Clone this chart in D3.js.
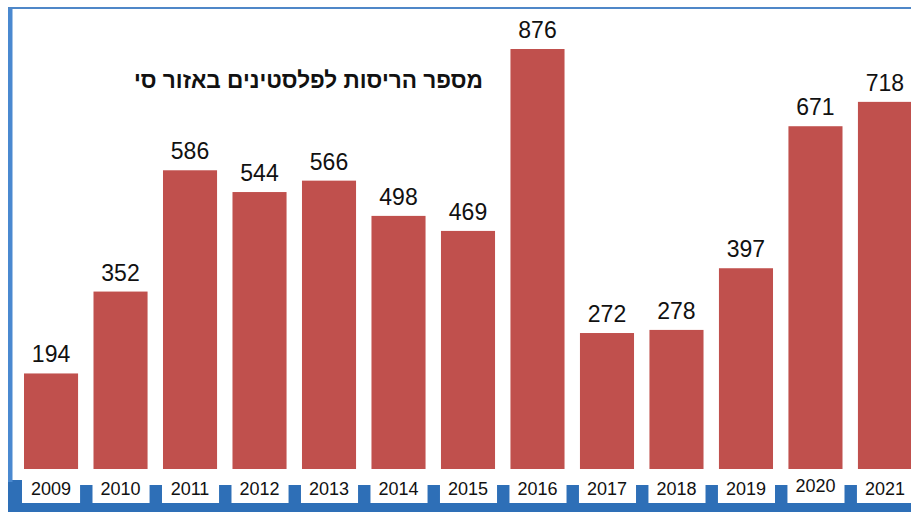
<!DOCTYPE html>
<html>
<head>
<meta charset="utf-8">
<script src="https://cdn.jsdelivr.net/npm/d3@7"></script>
<style>
  body { margin: 0; background: #fff; }
  svg { display: block; }
</style>
</head>
<body>
<div id="chart"></div>
<script>
let width = 911;
let height = 512;

let years = ["2009", "2010", "2011", "2012", "2013", "2014", "2015", "2016", "2017", "2018", "2019", "2020", "2021"];
let demolitions = [194, 352, 586, 544, 566, 498, 469, 876, 272, 278, 397, 671, 718];
let chartTitle = "מספר הריסות לפלסטינים באזור סי";

let svg = d3.select("#chart")
    .append("svg")
    .attr("width", width)
    .attr("height", height)
    .attr("viewBox", `0 0 ${width} ${height}`);

let x = d3.scaleBand()
    .domain(years)
    .range([24, 912])
    .paddingInner(0.222)
    .paddingOuter(0);

// the plot area is clipped at the top, so the 2016 bar gets cut off
let y = d3.scaleLinear()
    .domain([0, 820])
    .range([474, 49])
    .clamp(true);

let data = years.map((yr, i) => ({year: yr, value: demolitions[i]}));

svg.append("g")
    .selectAll("rect")
    .data(data)
    .enter()
    .append("rect")
        .attr("x", d => x(d.year))
        .attr("y", d => y(d.value))
        .attr("width", x.bandwidth())
        .attr("height", d => y(0) - y(d.value))
        .style("fill", "#C0504D");

svg.append("g")
    .selectAll("text")
    .data(data)
    .enter()
    .append("text")
        .attr("x", d => x(d.year) + x.bandwidth() / 2)
        .attr("y", d => y(d.value) - 11)
        .attr("text-anchor", "middle")
        .style("font-family", "'Liberation Sans', Arial, sans-serif")
        .style("font-size", "23px")
        .style("fill", "#111")
        .text(d => d.value);

// white strip under the bars that holds the year boxes
svg.append("rect")
    .attr("x", 12)
    .attr("y", 469)
    .attr("width", width - 12)
    .attr("height", 34)
    .style("fill", "#fff");

let gap = x.step() - x.bandwidth();
svg.append("g")
    .selectAll("rect")
    .data(years.slice(1))
    .enter()
    .append("rect")
        .attr("x", d => x(d) - gap + 2)
        .attr("y", 485)
        .attr("width", gap - 3)
        .attr("height", 20)
        .style("fill", "#2E6FB7");

svg.append("rect")
    .attr("x", 8)
    .attr("y", 480)
    .attr("width", 14)
    .attr("height", 25)
    .style("fill", "#2E6FB7");

svg.append("rect")
    .attr("x", 8)
    .attr("y", 503)
    .attr("width", width - 8)
    .attr("height", 9)
    .style("fill", "#2E6FB7");

svg.append("g")
    .selectAll("text")
    .data(years)
    .enter()
    .append("text")
        .attr("x", d => x(d) + x.bandwidth() / 2)
        .attr("y", d => d == "2020" ? 492 : 495)
        .attr("text-anchor", "middle")
        .style("font-family", "'Liberation Sans', Arial, sans-serif")
        .style("font-size", "18px")
        .style("fill", "#111")
        .text(d => d);

// frame: thick left edge, thin top line
svg.append("rect")
    .attr("x", 8)
    .attr("y", 7)
    .attr("width", 4.5)
    .attr("height", 475)
    .style("fill", "#4A89D0");

svg.append("rect")
    .attr("x", 8)
    .attr("y", 7)
    .attr("width", width - 8)
    .attr("height", 2)
    .style("fill", "#4F87C8");

svg.append("text")
    .attr("x", 483)
    .attr("y", 88)
    .attr("text-anchor", "end")
    .style("font-family", "'Liberation Sans', Arial, sans-serif")
    .style("font-size", "22.6px")
    .style("font-weight", "bold")
    .style("fill", "#111")
    .text(chartTitle);
</script>
</body>
</html>
